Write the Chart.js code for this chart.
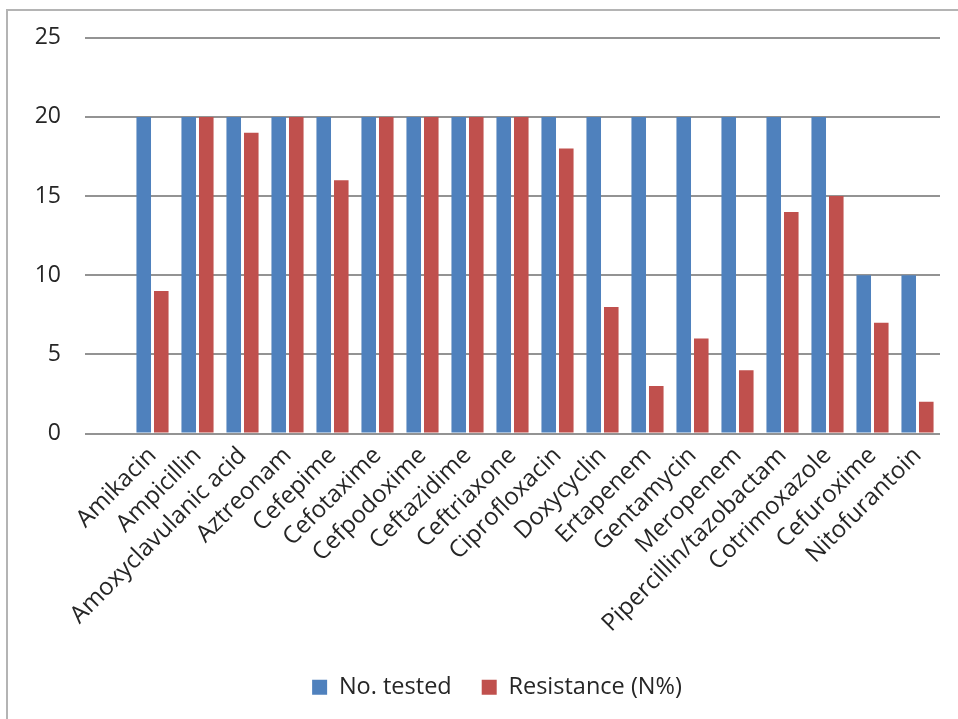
<!DOCTYPE html>
<html>
<head>
<meta charset="utf-8">
<script src="https://cdn.jsdelivr.net/npm/chart.js@4.4.1/dist/chart.umd.min.js"></script>
<style>
  html, body { margin: 0; padding: 0; width: 958px; height: 719px; overflow: hidden; background: #fff; }
  #frame {
    position: absolute; left: 6px; top: 9px;
    width: 980px; height: 740px;
    border-left: 2px solid #b4b4b4; border-top: 2px solid #b4b4b4;
  }
  #wrap { position: absolute; left: 0; top: -11px; width: 980px; height: 740px; }
</style>
</head>
<body>
<div id="frame"><div id="wrap"><canvas id="c"></canvas></div></div>
<script>
// Antibiotics tested
const categories = [
  'Amikacin', 'Ampicillin', 'Amoxyclavulanic acid', 'Aztreonam', 'Cefepime',
  'Cefotaxime', 'Cefpodoxime', 'Ceftazidime', 'Ceftriaxone', 'Ciprofloxacin',
  'Doxycyclin', 'Ertapenem', 'Gentamycin', 'Meropenem', 'Pipercillin/tazobactam',
  'Cotrimoxazole', 'Cefuroxime', 'Nitofurantoin'
];
// Number of isolates tested per antibiotic
const tested = [20, 20, 20, 20, 20, 20, 20, 20, 20, 20, 20, 20, 20, 20, 20, 20, 10, 10];
// Resistant isolates
const resistance = [9, 20, 19, 20, 16, 20, 20, 20, 20, 18, 8, 3, 6, 4, 14, 15, 7, 2];
// Value axis ticks
const yTicks = [0, 5, 10, 15, 20, 25];

const FONT = "'Open Sans', 'Noto Sans', sans-serif";
const TEXT = '#262626';
const GRID = '#939393';

// Centre the legend under the whole frame rather than under the plot width
const legendShift = {
  id: 'legendShift',
  afterLayout(chart) {
    const l = chart.legend;
    if (l) { l.left += 23; l.right += 23; }
  }
};

new Chart(document.getElementById('c'), {
  type: 'bar',
  data: {
    labels: categories,
    datasets: [
      { label: 'No. tested', data: tested, backgroundColor: '#4f81bd', borderWidth: 0 },
      { label: 'Resistance (N%)', data: resistance, backgroundColor: '#c0504d', borderWidth: 0 }
    ]
  },
  plugins: [legendShift],
  options: {
    responsive: true,
    maintainAspectRatio: false,
    animation: false,
    devicePixelRatio: 1,
    layout: { padding: { top: 8, right: 48, bottom: 31, left: 0 } },
    datasets: { bar: { categoryPercentage: 0.78, barPercentage: 0.83 } },
    plugins: {
      tooltip: { enabled: false },
      legend: {
        position: 'bottom',
        labels: {
          font: { family: FONT, size: 23.5 },
          color: TEXT,
          boxWidth: 15, boxHeight: 15,
          padding: 30
        }
      }
    },
    scales: {
      x: {
        grid: { display: false },
        border: { display: false },
        ticks: {
          font: { family: FONT, size: 24 },
          color: TEXT,
          minRotation: 45, maxRotation: 45,
          autoSkip: false,
          padding: 0
        },
        afterFit: s => { s.height = 212; }
      },
      y: {
        min: 0, max: 25,
        afterBuildTicks: s => { s.ticks = yTicks.map(v => ({ value: v })); },
        grid: { color: GRID, lineWidth: 2, drawTicks: true, tickLength: 45, tickColor: GRID },
        border: { display: false },
        ticks: {
          font: { family: FONT, size: 23 },
          color: TEXT,
          padding: 24
        },
        afterFit: s => { s.width = 122; }
      }
    }
  }
});
</script>
</body>
</html>
